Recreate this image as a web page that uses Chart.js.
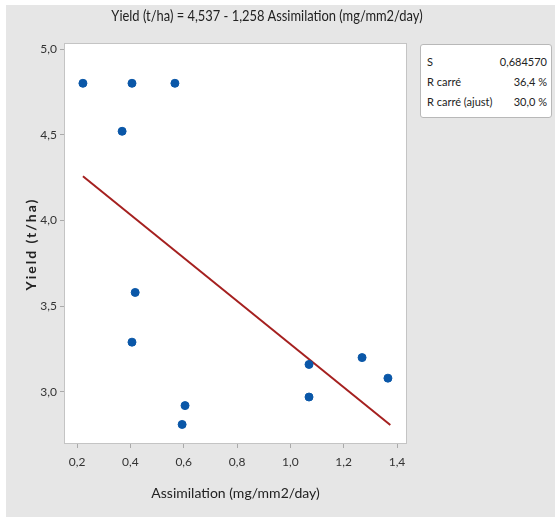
<!DOCTYPE html>
<html>
<head>
<meta charset="utf-8">
<script src="https://cdn.jsdelivr.net/npm/chart.js@4.4.1/dist/chart.umd.min.js"></script>
<style>
  html, body { margin: 0; padding: 0; background: #fff; }
  #wrap { position: relative; width: 555px; height: 521px; overflow: hidden; }
  #chart { position: absolute; left: 0; top: 0; }
  #title { position: absolute; left: 0; top: 5px; width: 534px; text-align: center;
    font-family: Lato, sans-serif; font-size: 15px; color: #222; line-height: 20px;
    transform: scaleX(0.86); transform-origin: 267px 50%; }
  #ytitle { position: absolute; left: 31px; top: 244px; width: 140px; margin-left: -70px;
    text-align: center; transform: translateY(-50%) rotate(-90deg);
    font-family: Lato, sans-serif; font-size: 14px; font-weight: bold; letter-spacing: 2px;
    color: #222; line-height: 18px; }
  #stats { position: absolute; left: 420px; top: 44px; width: 130px; height: 72px;
    background: #fff; border: 1px solid #b8b8b8; border-radius: 3px;
    font-family: Lato, sans-serif; font-size: 11px; color: #222; }
  #stats div { position: absolute; left: 6px; right: 4px; height: 16px; line-height: 16px; }
  #stats span { float: right; }
</style>
</head>
<body>
<div id="wrap">
  <canvas id="chart" width="555" height="521"></canvas>
  <div id="title">Yield (t/ha) = 4,537 - 1,258 Assimilation (mg/mm2/day)</div>
  <div id="ytitle">Yield (t/ha)</div>
  <div id="stats">
    <div style="top:9px">S<span>0,684570</span></div>
    <div style="top:29px">R carré<span>36,4 %</span></div>
    <div style="top:49px">R carré (ajust)<span>30,0 %</span></div>
  </div>
</div>
<script>
// observations
var assimilation = [0.222, 0.406, 0.567, 0.369, 0.418, 0.406, 0.605, 0.594, 1.07, 1.07, 1.269, 1.366];
var yieldTha = [4.80, 4.80, 4.80, 4.52, 3.58, 3.29, 2.92, 2.81, 3.16, 2.97, 3.20, 3.08];

// fitted line from the printed equation
var intercept = 4.537;
var slope = -1.258;
var fitX = [0.222, 1.375];

var xTicks = [0.2, 0.4, 0.6, 0.8, 1.0, 1.2, 1.4];
var yTicks = [3.0, 3.5, 4.0, 4.5, 5.0];

function comma(v) { return v.toFixed(1).replace('.', ','); }

var points = assimilation.map(function (x, i) { return { x: x, y: yieldTha[i] }; });
var fitLine = fitX.map(function (x) { return { x: x, y: intercept + slope * x }; });

var background = {
  id: 'background',
  beforeDraw: function (chart) {
    var ctx = chart.ctx, a = chart.chartArea;
    ctx.save();
    ctx.fillStyle = '#e6e6e6';
    ctx.fillRect(6, 5, 549, 512);
    ctx.fillStyle = '#fff';
    ctx.fillRect(a.left, a.top, a.right - a.left, a.bottom - a.top);
    ctx.restore();
  },
  afterDraw: function (chart) {
    var ctx = chart.ctx, a = chart.chartArea;
    ctx.save();
    ctx.strokeStyle = '#c4c4c4';
    ctx.lineWidth = 1;
    ctx.strokeRect(a.left + 0.5, a.top + 0.5, a.right - a.left - 1, a.bottom - a.top - 1);
    ctx.restore();
  }
};

new Chart(document.getElementById('chart'), {
  type: 'scatter',
  data: {
    datasets: [
      { label: 'fit', type: 'line', data: fitLine, borderColor: '#a5201f', borderWidth: 2,
        pointRadius: 0, fill: false, order: 2 },
      { label: 'obs', data: points, backgroundColor: '#0a57a8', borderColor: '#0a57a8',
        pointRadius: 4, order: 1 }
    ]
  },
  options: {
    responsive: false,
    animation: false,
    layout: { padding: { left: 0, top: 43, right: 148, bottom: 0 } },
    plugins: { legend: { display: false }, tooltip: { enabled: false } },
    scales: {
      x: {
        type: 'linear', min: 0.151, max: 1.4375,
        afterBuildTicks: function (s) { s.ticks = xTicks.map(function (v) { return { value: v }; }); },
        afterFit: function (s) { s.height = 77; },
        grid: { drawOnChartArea: false, tickLength: 4, color: '#aaa' },
        border: { display: false },
        ticks: { padding: 7, color: '#333', font: { family: 'Lato', size: 12 },
          callback: function (v) { return comma(v); } },
        title: { display: true, text: 'Assimilation (mg/mm2/day)', color: '#222',
          font: { family: 'Lato', size: 14 }, padding: { bottom: 19 } }
      },
      y: {
        type: 'linear', min: 2.696, max: 5.035,
        afterBuildTicks: function (s) { s.ticks = yTicks.map(function (v) { return { value: v }; }); },
        afterFit: function (s) { s.width = 64; },
        grid: { drawOnChartArea: false, tickLength: 4, color: '#aaa' },
        border: { display: false },
        ticks: { padding: 3, color: '#333', font: { family: 'Lato', size: 12 },
          callback: function (v) { return comma(v); } }
      }
    }
  },
  plugins: [background]
});
</script>
</body>
</html>
